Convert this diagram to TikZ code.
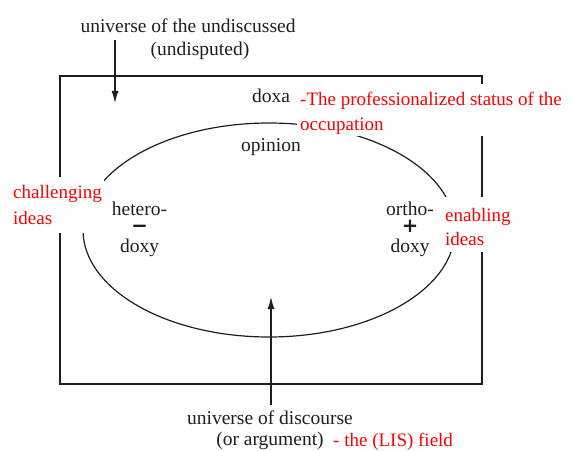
\documentclass[tikz,border=0pt]{standalone}
\usepackage{fontspec}
\setmainfont{Liberation Serif}
\newfontfamily\symfont[FakeBold=4]{Liberation Serif}
\usetikzlibrary{arrows.meta}
\definecolor{redtxt}{RGB}{255,0,0}
\definecolor{ink}{RGB}{30,30,30}
\tikzset{
  frame/.style={draw=ink, line width=1.2bp},
  lab/.style={text=ink, inner sep=0pt, align=center, font=\fontsize{19.5bp}{23bp}\selectfont},
  redlab/.style={text=redtxt, fill=white, align=left, inner ysep=0pt},
  arr/.style={draw=ink, line width=1.2bp, -{Latex[length=12bp,width=7bp]}}
}
\newcommand{\bigsym}[1]{{\symfont\fontsize{24bp}{18.5bp}\selectfont #1}}
\begin{document}
\begin{tikzpicture}[x=1bp,y=-1bp]
\useasboundingbox (0,0) rectangle (574,451);
% frame and ellipse
\draw[frame] (60,76) rectangle (482,384);
\draw[frame] (269,230) ellipse [x radius=186bp, y radius=107bp];
% top label and arrow
\node[lab, anchor=north] (undisc) at (188,18.7) {universe of the undiscussed\\\hspace*{24bp}(undisputed)};
\coordinate (ua) at (115,40);
\coordinate (ub) at (115,103);
\draw[arr] (ua) -- (ub);
% inner labels
\node[lab, anchor=base] (doxa) at (271,103) {doxa};
\node[lab, anchor=base] (opinion) at (271,152) {opinion};
\node[lab, anchor=center, font=\fontsize{19.5bp}{18.5bp}\selectfont] (hetero) at (139.5,229) {hetero-\\\bigsym{−}\\doxy};
\node[lab, anchor=center, font=\fontsize{19.5bp}{18.5bp}\selectfont] (ortho) at (410,229) {ortho-\\\bigsym{+}\\doxy};
% red labels
\node[redlab, anchor=north west, inner xsep=3bp, font=\fontsize{19bp}{25bp}\selectfont] (status) at (297,84)
  {\rule{0pt}{21bp}-The professionalized status of the\\occupation\rule[-6bp]{0pt}{6bp}};
\node[redlab, anchor=north west, inner xsep=2bp, font=\fontsize{19bp}{26bp}\selectfont] (challenging) at (11,177)
  {\rule{0pt}{21bp}challenging\\ideas\rule[-9bp]{0pt}{9bp}};
\node[redlab, anchor=north west, inner xsep=1bp, font=\fontsize{19bp}{24bp}\selectfont] (enabling) at (444,197)
  {\rule{0pt}{24bp}enabling\\ideas\rule[-7bp]{0pt}{7bp}};
% bottom label and arrow
\node[lab, anchor=north, font=\fontsize{19.5bp}{21.5bp}\selectfont] (discourse) at (270,410.5) {universe of discourse\\(or argument)};
\node[text=redtxt, inner sep=0pt, anchor=base west, font=\fontsize{19bp}{23bp}\selectfont] (field) at (333,446) {- the (LIS) field};
\coordinate (da) at (271,405);
\coordinate (db) at (271,297);
\draw[arr] (da) -- (db);
\end{tikzpicture}
\end{document}
